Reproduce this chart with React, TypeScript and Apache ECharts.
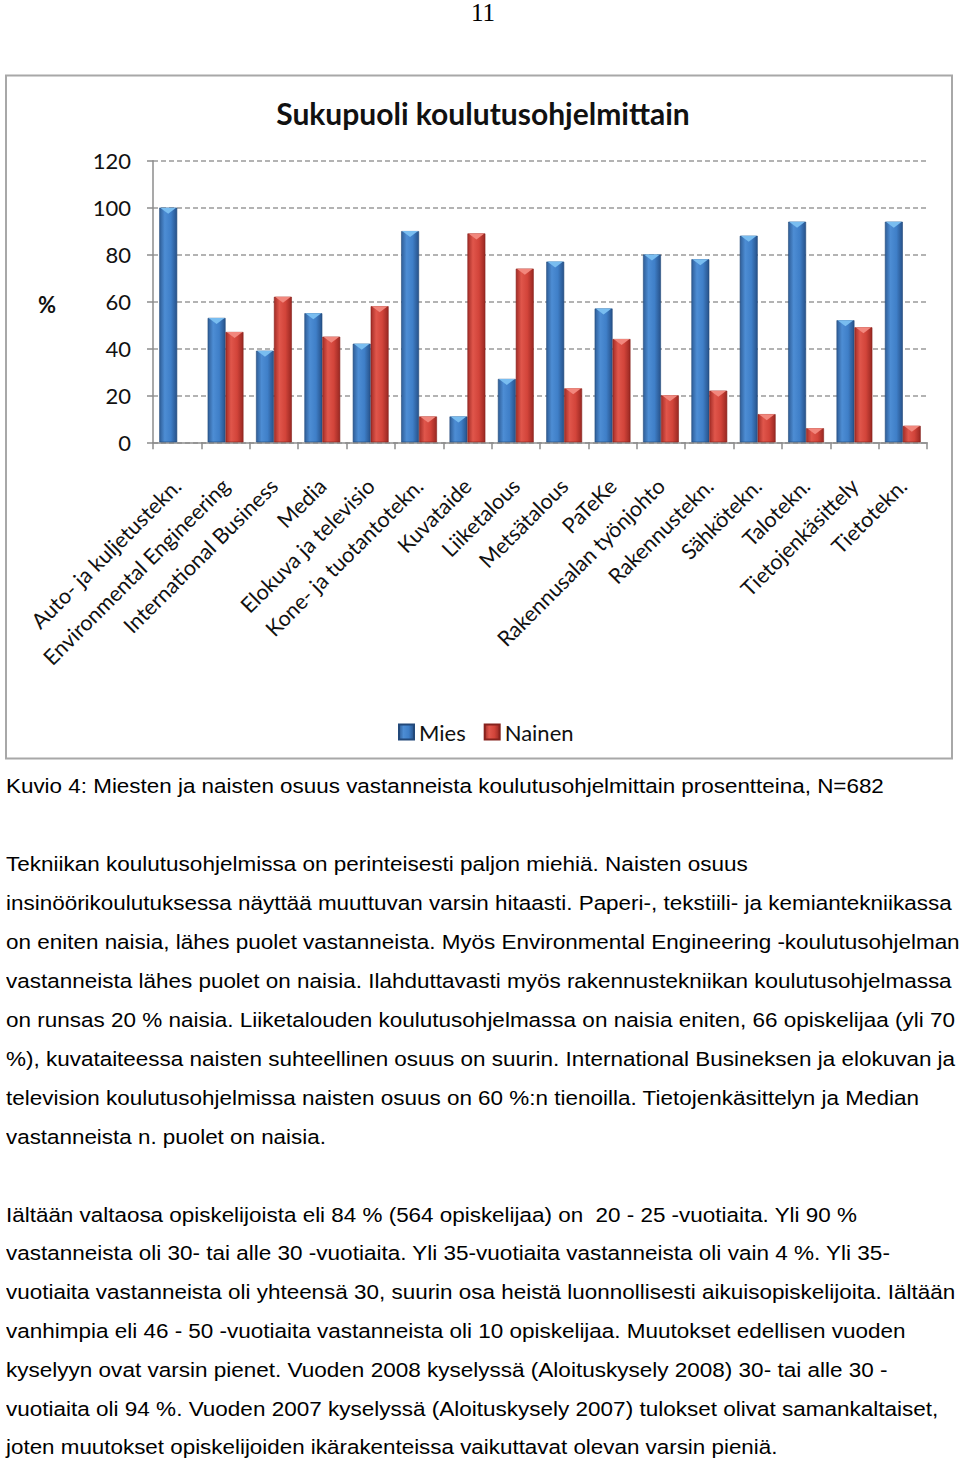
import React, { useEffect, useLayoutEffect, useRef } from 'react';
import * as echarts from 'echarts';

const categories = [
  'Auto- ja kuljetustekn.',
  'Environmental Engineering',
  'International Business',
  'Media',
  'Elokuva ja televisio',
  'Kone- ja tuotantotekn.',
  'Kuvataide',
  'Liiketalous',
  'Metsätalous',
  'PaTeKe',
  'Rakennusalan työnjohto',
  'Rakennustekn.',
  'Sähkötekn.',
  'Talotekn.',
  'Tietojenkäsittely',
  'Tietotekn.',
];
const mies = [100, 53, 39, 55, 42, 90, 11, 27, 77, 57, 80, 78, 88, 94, 52, 94];
const nainen = [0, 47, 62, 45, 58, 11, 89, 74, 23, 44, 20, 22, 12, 6, 49, 7];
const yMin = 0;
const yMax = 120;
const yStep = 20;

const chartTitle = 'Sukupuoli koulutusohjelmittain';
const yName = '%';
const pageNumber = '11';

const textLines = [
  'Kuvio 4: Miesten ja naisten osuus vastanneista koulutusohjelmittain prosentteina, N=682',
  'Tekniikan koulutusohjelmissa on perinteisesti paljon miehiä. Naisten osuus',
  'insinöörikoulutuksessa näyttää muuttuvan varsin hitaasti. Paperi-, tekstiili- ja kemiantekniikassa',
  'on eniten naisia, lähes puolet vastanneista. Myös Environmental Engineering -koulutusohjelman',
  'vastanneista lähes puolet on naisia. Ilahduttavasti myös rakennustekniikan koulutusohjelmassa',
  'on runsas 20 % naisia. Liiketalouden koulutusohjelmassa on naisia eniten, 66 opiskelijaa (yli 70',
  '%), kuvataiteessa naisten suhteellinen osuus on suurin. International Busineksen ja elokuvan ja',
  'television koulutusohjelmissa naisten osuus on 60 %:n tienoilla. Tietojenkäsittelyn ja Median',
  'vastanneista n. puolet on naisia.',
  'Iältään valtaosa opiskelijoista eli 84 % (564 opiskelijaa) on  20 - 25 -vuotiaita. Yli 90 %',
  'vastanneista oli 30- tai alle 30 -vuotiaita. Yli 35-vuotiaita vastanneista oli vain 4 %. Yli 35-',
  'vuotiaita vastanneista oli yhteensä 30, suurin osa heistä luonnollisesti aikuisopiskelijoita. Iältään',
  'vanhimpia eli 46 - 50 -vuotiaita vastanneista oli 10 opiskelijaa. Muutokset edellisen vuoden',
  'kyselyyn ovat varsin pienet. Vuoden 2008 kyselyssä (Aloituskysely 2008) 30- tai alle 30 -',
  'vuotiaita oli 94 %. Vuoden 2007 kyselyssä (Aloituskysely 2007) tulokset olivat samankaltaiset,',
  'joten muutokset opiskelijoiden ikärakenteissa vaikuttavat olevan varsin pieniä.',
];
// layout of the text lines: vertical centre and right edge (px)
const lineCenterY = [786, 864, 903, 942, 981, 1020, 1059, 1098, 1137, 1215, 1253, 1292, 1331, 1370, 1409, 1447];
const lineRightX = [884, 748, 952, 960, 952, 955, 955, 919, 326, 857, 890, 955, 906, 888, 938, 778];

const chartFont = 'Lato, "Open Sans", sans-serif';

const blueGrad = new echarts.graphic.LinearGradient(0, 0, 1, 0, [
  { offset: 0, color: '#2f5e98' },
  { offset: 0.3, color: '#4d8dd4' },
  { offset: 0.65, color: '#3f7fc8' },
  { offset: 1, color: '#27528a' },
]);
const redGrad = new echarts.graphic.LinearGradient(0, 0, 1, 0, [
  { offset: 0, color: '#a32d27' },
  { offset: 0.3, color: '#e0564b' },
  { offset: 0.65, color: '#d2443a' },
  { offset: 1, color: '#992822' },
]);

function Chart() {
  const ref = useRef<HTMLDivElement>(null);
  useEffect(() => {
    if (!ref.current) return;
    const chart = echarts.init(ref.current, undefined, { renderer: 'svg' });
    const capPath = 'path://M0,0 L10,0 L5,6 Z';
    const hideZero = (arr: number[]) => arr.map((v) => (v > 0 ? v : '-'));
    chart.setOption({
      animation: false,
      textStyle: { fontFamily: chartFont },
      graphic: [
        {
          type: 'rect',
          shape: { x: 6, y: 75.5, width: 946, height: 683 },
          style: { fill: 'none', stroke: '#a8a8a8', lineWidth: 2 },
          z: 0,
        },
        {
          type: 'text',
          x: 483,
          y: 113,
          style: {
            text: chartTitle,
            fontFamily: chartFont,
            fontSize: 30,
            fontWeight: 'bold',
            fill: '#111',
            textAlign: 'center',
            textVerticalAlign: 'middle',
          },
        },
        {
          type: 'text',
          x: 47,
          y: 304,
          style: {
            text: yName,
            fontFamily: chartFont,
            fontSize: 22,
            fontWeight: 'bold',
            fill: '#111',
            textAlign: 'center',
            textVerticalAlign: 'middle',
          },
        },
      ],
      legend: {
        data: ['Mies', 'Nainen'],
        left: 393,
        top: 716,
        itemWidth: 15,
        itemHeight: 15,
        itemGap: 18,
        icon: 'rect',
        textStyle: { fontSize: 22, color: '#111', fontFamily: chartFont },
      },
      grid: { left: 153, top: 160.7, width: 774, height: 281.6, containLabel: false },
      xAxis: {
        type: 'category',
        data: categories,
        axisLine: { lineStyle: { color: '#8c8c8c', width: 1.5 } },
        axisTick: { show: true, length: 7, lineStyle: { color: '#8c8c8c', width: 1.5 } },
        axisLabel: {
          rotate: 45,
          interval: 0,
          margin: 40,
          fontSize: 21.5,
          color: '#111',
          fontFamily: chartFont,
        },
      },
      yAxis: {
        type: 'value',
        min: yMin,
        max: yMax,
        interval: yStep,
        axisLine: { show: true, lineStyle: { color: '#8c8c8c', width: 1.5 } },
        axisTick: { show: true, length: 6, lineStyle: { color: '#8c8c8c', width: 1.5 } },
        axisLabel: { fontSize: 22, color: '#111', margin: 22, fontFamily: chartFont },
        splitLine: { show: true, lineStyle: { color: '#9a9a9a', type: [5, 3], width: 1.5 } },
      },
      series: [
        {
          name: 'Mies',
          type: 'bar',
          data: hideZero(mies),
          barGap: '0%',
          barCategoryGap: '26%',
          itemStyle: { color: blueGrad, borderColor: '#23497a', borderWidth: 0.6 },
        },
        {
          name: 'Nainen',
          type: 'bar',
          data: hideZero(nainen),
          barGap: '0%',
          barCategoryGap: '26%',
          itemStyle: { color: redGrad, borderColor: '#86221d', borderWidth: 0.6 },
        },
        {
          name: 'capM',
          type: 'pictorialBar',
          data: hideZero(mies),
          symbol: capPath,
          symbolSize: [16, 6],
          symbolPosition: 'end',
          symbolOffset: [-9, 0],
          itemStyle: { color: '#79bdf0' },
          z: 5,
        },
        {
          name: 'capN',
          type: 'pictorialBar',
          data: hideZero(nainen),
          symbol: capPath,
          symbolSize: [16, 6],
          symbolPosition: 'end',
          symbolOffset: [9, 0],
          itemStyle: { color: '#f2877d' },
          z: 5,
        },
      ],
    });
    return () => chart.dispose();
  }, []);
  return <div ref={ref} style={{ position: 'absolute', left: 0, top: 0, width: 960, height: 770 }} />;
}

function TextBlock() {
  const refs = useRef<(HTMLSpanElement | null)[]>([]);
  useLayoutEffect(() => {
    refs.current.forEach((el, i) => {
      if (!el) return;
      el.style.transform = 'none';
      const w = el.offsetWidth;
      const target = lineRightX[i] - 6;
      if (w > 0) el.style.transform = `scaleX(${target / w})`;
    });
  }, []);
  return (
    <>
      {textLines.map((t, i) => (
        <span
          key={i}
          ref={(el) => {
            refs.current[i] = el;
          }}
          style={{
            position: 'absolute',
            left: 6,
            top: lineCenterY[i] - 13,
            lineHeight: '26px',
            height: 26,
            fontFamily: '"Liberation Sans", Arial, sans-serif',
            fontSize: 20.5,
            color: '#000',
            whiteSpace: 'pre',
            transformOrigin: 'left center',
            display: 'inline-block',
          }}
        >
          {t}
        </span>
      ))}
    </>
  );
}

export default function App() {
  return (
    <div style={{ position: 'absolute', left: 0, top: 0, width: 960, height: 1462, background: '#fff', overflow: 'hidden' }}>
      <div
        style={{
          position: 'absolute',
          left: 0,
          top: 0,
          width: 966,
          textAlign: 'center',
          fontFamily: '"Liberation Serif", "Times New Roman", serif',
          fontSize: 25,
          lineHeight: '25px',
          color: '#000',
        }}
      >
        {pageNumber}
      </div>
      <Chart />
      <TextBlock />
    </div>
  );
}
